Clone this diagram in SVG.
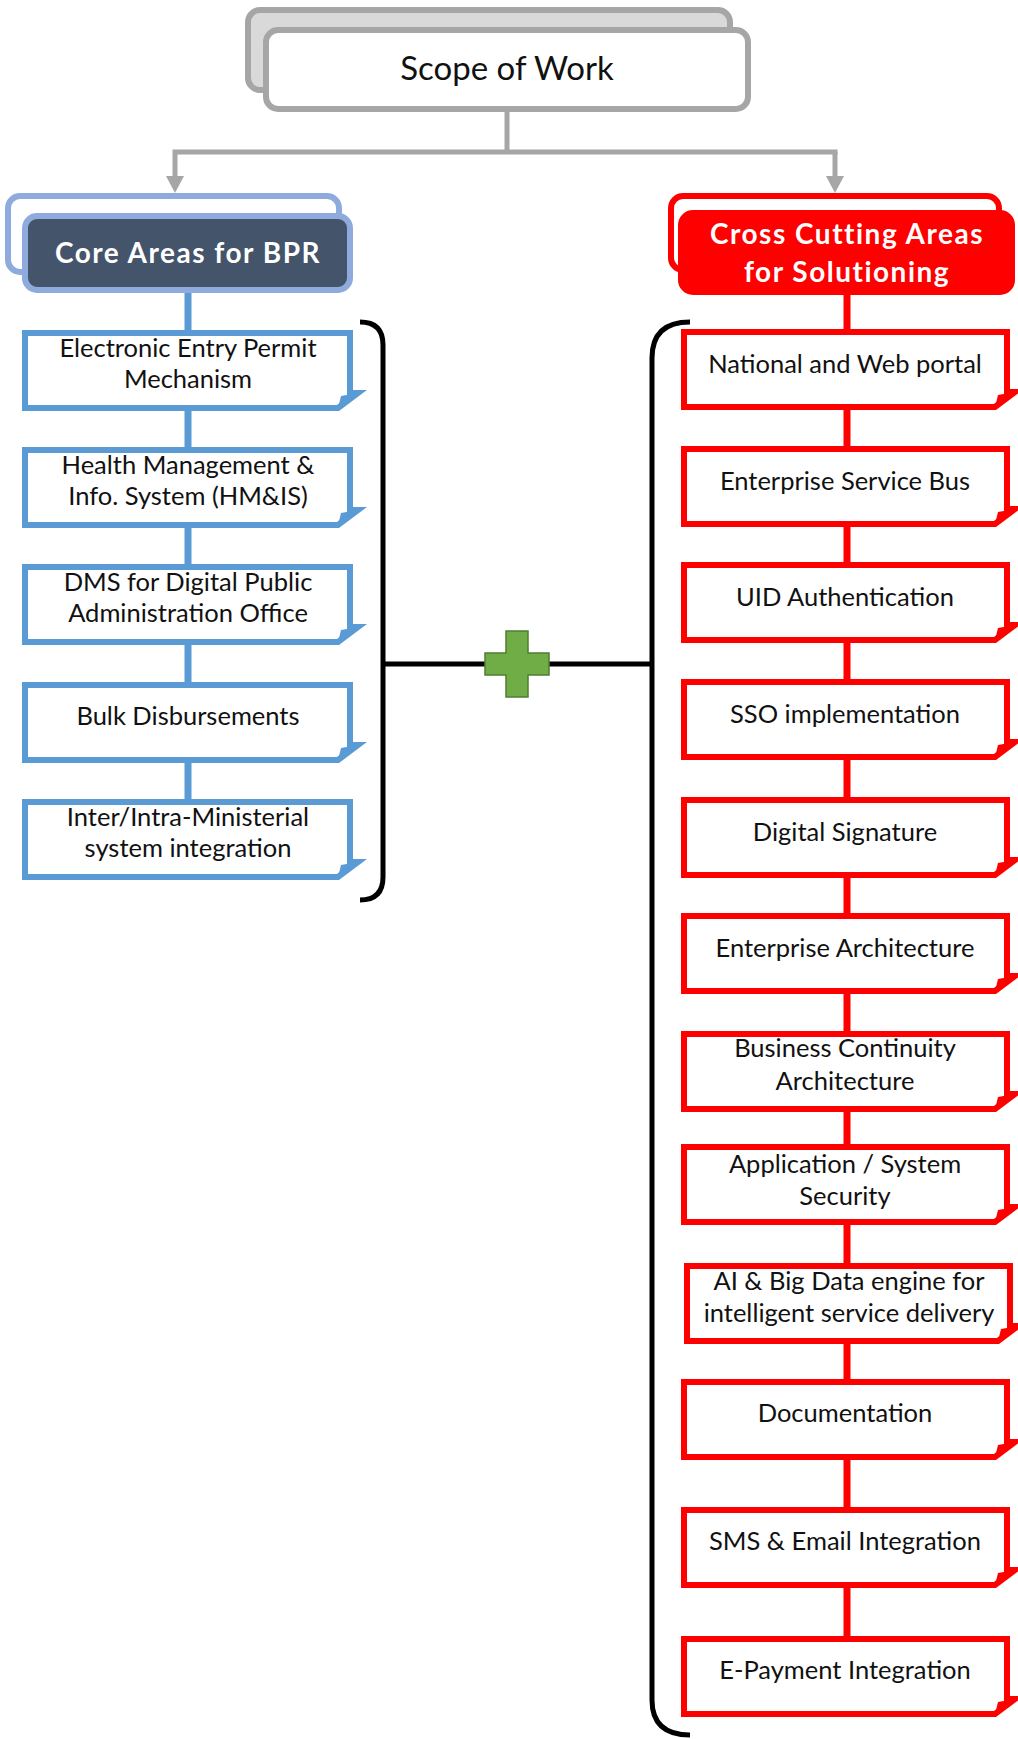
<svg xmlns="http://www.w3.org/2000/svg" width="1018" height="1739" viewBox="0 0 1018 1739">
<defs>
<style>
.t{font-family:Lato,"Liberation Sans",sans-serif;font-size:25.5px;fill:#111;text-anchor:middle}
.h{font-family:Lato,"Liberation Sans",sans-serif;font-weight:bold;font-size:28px;letter-spacing:1.5px;fill:#fff;text-anchor:middle}
.bl{fill:#fff;stroke:#5b9bd5;stroke-width:6}
.rd{fill:#fff;stroke:#ff0000;stroke-width:6}
.blf{fill:#5b9bd5}
.rdf{fill:#ff0000}
.gc{fill:none;stroke:#a6a6a6;stroke-width:5}
.bk{fill:none;stroke:#000;stroke-width:5}
</style>
<marker id="ga" markerUnits="userSpaceOnUse" viewBox="0 0 17 18" refX="0" refY="9" markerWidth="17" markerHeight="18" orient="auto">
<path d="M0,0 L17,9 L0,18 Z" fill="#a6a6a6"/>
</marker>
</defs>
<rect width="1018" height="1739" fill="#fff"/>

<g id="connectors">
<path class="gc" d="M507,108 V152 M172.5,152 H837.5 M175,152 V176" marker-end="url(#ga)"/>
<path class="gc" d="M835,152 V176" marker-end="url(#ga)"/>
<path d="M188,290 V800" stroke="#5b9bd5" stroke-width="7" fill="none"/>
<path d="M847,292 V1638" stroke="#ff0000" stroke-width="7" fill="none"/>
<path class="bk" d="M360,322 Q383,322 383,345 V877 Q383,900 360,900"/>
<path class="bk" d="M690,322 Q652,322 652,358 V1700 Q652,1735 690,1735"/>
<path class="bk" d="M383,664 H652"/>
</g>

<g id="scope">
<rect x="248" y="10" width="482" height="80" rx="12" fill="#d9d9d9" stroke="#a6a6a6" stroke-width="6"/>
<rect x="266" y="30" width="482" height="79" rx="12" fill="#fff" stroke="#a6a6a6" stroke-width="6"/>
<text x="507" y="80" font-family="Lato,'Liberation Sans',sans-serif" font-size="33" fill="#111" text-anchor="middle">Scope of Work</text>
</g>

<g id="core">
<rect x="8" y="196" width="331" height="76" rx="12" fill="#fff" stroke="#8faadc" stroke-width="6"/>
<rect x="25" y="216" width="325" height="74" rx="12" fill="#44546a" stroke="#8faadc" stroke-width="6"/>
<text class="h" x="188" y="263">Core Areas for BPR</text>
</g>

<g id="cross">
<rect x="671" y="196" width="328" height="74" rx="12" fill="#fff" stroke="#ff0000" stroke-width="6"/>
<rect x="681" y="213" width="331" height="79" rx="12" fill="#ff0000" stroke="#ff0000" stroke-width="6"/>
<text class="h" x="847" y="244">Cross Cutting Areas</text>
<text class="h" x="847" y="282">for Solutioning</text>
</g>

<g id="plus">
<path d="M506,631 H528 V653 H549 V675 H528 V697 H506 V675 H485 V653 H506 Z" fill="#70ad47" stroke="#507e32" stroke-width="1.5"/>
</g>

<g id="l1"><path class="bl" d="M25,333 H350 V393 H358 L338,408 H25 Z"/><path class="blf" d="M338,408 L341,396 L358,393 Z"/>
<text class="t" x="188" y="357">Electronic Entry Permit</text><text class="t" x="188" y="388">Mechanism</text></g>
<g id="l2"><path class="bl" d="M25,450 H350 V510 H358 L338,525 H25 Z"/><path class="blf" d="M338,525 L341,513 L358,510 Z"/>
<text class="t" x="188" y="474">Health Management &amp;</text><text class="t" x="188" y="505">Info. System (HM&amp;IS)</text></g>
<g id="l3"><path class="bl" d="M25,567 H350 V627 H358 L338,642 H25 Z"/><path class="blf" d="M338,642 L341,630 L358,627 Z"/>
<text class="t" x="188" y="591">DMS for Digital Public</text><text class="t" x="188" y="622">Administration Office</text></g>
<g id="l4"><path class="bl" d="M25,685 H350 V745 H358 L338,760 H25 Z"/><path class="blf" d="M338,760 L341,748 L358,745 Z"/>
<text class="t" x="188" y="725">Bulk Disbursements</text></g>
<g id="l5"><path class="bl" d="M25,802 H350 V862 H358 L338,877 H25 Z"/><path class="blf" d="M338,877 L341,865 L358,862 Z"/>
<text class="t" x="188" y="826">Inter/Intra-Ministerial</text><text class="t" x="188" y="857">system  integration</text></g>

<g id="r1"><path class="rd" d="M684,332 H1007 V392 H1015 L995,407 H684 Z"/><path class="rdf" d="M995,407 L998,395 L1015,392 Z"/>
<text class="t" x="845" y="373">National and Web portal</text></g>
<g id="r2"><path class="rd" d="M684,449 H1007 V509 H1015 L995,524 H684 Z"/><path class="rdf" d="M995,524 L998,512 L1015,509 Z"/>
<text class="t" x="845" y="490">Enterprise Service Bus</text></g>
<g id="r3"><path class="rd" d="M684,565 H1007 V625 H1015 L995,640 H684 Z"/><path class="rdf" d="M995,640 L998,628 L1015,625 Z"/>
<text class="t" x="845" y="606">UID Authentication</text></g>
<g id="r4"><path class="rd" d="M684,682 H1007 V742 H1015 L995,757 H684 Z"/><path class="rdf" d="M995,757 L998,745 L1015,742 Z"/>
<text class="t" x="845" y="723">SSO implementation</text></g>
<g id="r5"><path class="rd" d="M684,800 H1007 V860 H1015 L995,875 H684 Z"/><path class="rdf" d="M995,875 L998,863 L1015,860 Z"/>
<text class="t" x="845" y="841">Digital Signature</text></g>
<g id="r6"><path class="rd" d="M684,916 H1007 V976 H1015 L995,991 H684 Z"/><path class="rdf" d="M995,991 L998,979 L1015,976 Z"/>
<text class="t" x="845" y="957">Enterprise Architecture</text></g>
<g id="r7"><path class="rd" d="M684,1034 H1007 V1094 H1015 L995,1109 H684 Z"/><path class="rdf" d="M995,1109 L998,1097 L1015,1094 Z"/>
<text class="t" x="845" y="1057">Business Continuity</text><text class="t" x="845" y="1090">Architecture</text></g>
<g id="r8"><path class="rd" d="M684,1147 H1007 V1207 H1015 L995,1222 H684 Z"/><path class="rdf" d="M995,1222 L998,1210 L1015,1207 Z"/>
<text class="t" x="845" y="1173">Application / System</text><text class="t" x="845" y="1205">Security</text></g>
<g id="r9"><path class="rd" d="M687,1266 H1010 V1326 H1018 L998,1341 H687 Z"/><path class="rdf" d="M998,1341 L1001,1329 L1018,1326 Z"/>
<text class="t" x="849" y="1290">AI &amp; Big Data engine for</text><text class="t" x="849" y="1322">intelligent service delivery</text></g>
<g id="r10"><path class="rd" d="M684,1382 H1007 V1442 H1015 L995,1457 H684 Z"/><path class="rdf" d="M995,1457 L998,1445 L1015,1442 Z"/>
<text class="t" x="845" y="1422">Documentation</text></g>
<g id="r11"><path class="rd" d="M684,1510 H1007 V1570 H1015 L995,1585 H684 Z"/><path class="rdf" d="M995,1585 L998,1573 L1015,1570 Z"/>
<text class="t" x="845" y="1550">SMS &amp; Email Integration</text></g>
<g id="r12"><path class="rd" d="M684,1639 H1007 V1699 H1015 L995,1714 H684 Z"/><path class="rdf" d="M995,1714 L998,1702 L1015,1699 Z"/>
<text class="t" x="845" y="1679">E-Payment Integration</text></g>
</svg>
